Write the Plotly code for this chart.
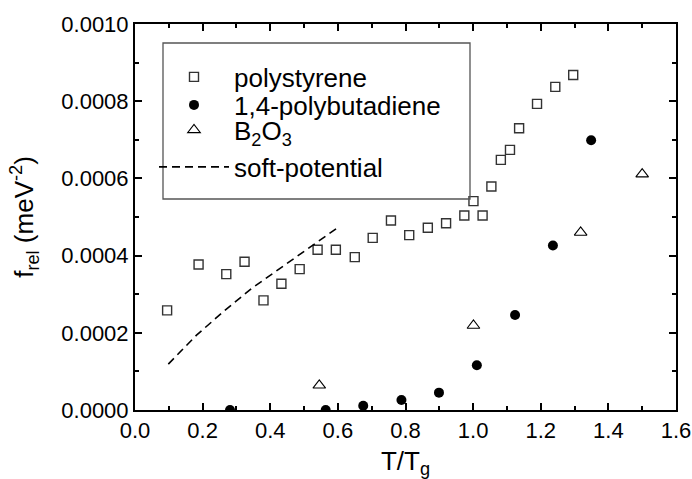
import plotly.graph_objects as go

# Data
ps_x = [0.095, 0.188, 0.270, 0.324, 0.380, 0.433, 0.487, 0.540, 0.594, 0.650, 0.703, 0.757,
        0.811, 0.866, 0.920, 0.974, 1.001, 1.028, 1.054, 1.082, 1.109, 1.136, 1.189, 1.243, 1.296]
ps_y = [0.000258, 0.000377, 0.000352, 0.000384, 0.000284, 0.000327, 0.000365, 0.000415,
        0.000415, 0.000396, 0.000446, 0.000491, 0.000453, 0.000472, 0.000484, 0.000504,
        0.000541, 0.000504, 0.000579, 0.000648, 0.000674, 0.000730, 0.000793, 0.000837, 0.000868]

pb_x = [0.281, 0.564, 0.675, 0.788, 0.899, 1.011, 1.124, 1.236, 1.349]
pb_y = [0.0, 0.0, 0.000011, 0.000026, 0.000045, 0.000116, 0.000246, 0.000426, 0.000699]

bo_x = [0.545, 1.001, 1.318, 1.500]
bo_y = [0.000064, 0.000219, 0.000460, 0.000611]

sp_x = [0.0985, 0.182, 0.263, 0.345, 0.429, 0.513, 0.597]
sp_y = [0.000119, 0.000194, 0.000256, 0.000315, 0.000367, 0.000419, 0.000471]

FONT = "Arial, Liberation Sans, sans-serif"

fig = go.Figure()
fig.add_trace(go.Scatter(x=ps_x, y=ps_y, mode="markers", name="polystyrene",
                         marker=dict(symbol="square-open", size=9, color="#333333",
                                     line=dict(width=1.4, color="#333333")),
                         showlegend=True, legend="legend"))
fig.add_trace(go.Scatter(x=pb_x, y=pb_y, mode="markers", name="1,4-polybutadiene",
                         marker=dict(symbol="circle", size=10, color="black"),
                         cliponaxis=True, showlegend=True, legend="legend2"))
fig.add_trace(go.Scatter(x=bo_x, y=bo_y, mode="markers", name="B<sub>2</sub>O<sub>3</sub>",
                         marker=dict(symbol="triangle-up-open", size=11, color="black",
                                     line=dict(width=1.1, color="black")),
                         showlegend=True, legend="legend3"))
fig.add_trace(go.Scatter(x=sp_x, y=sp_y, mode="lines", name="soft-potential",
                         line=dict(color="black", width=1.6, dash="8px,5px"),
                         showlegend=True, legend="legend4"))

def leg(ypx):
    return dict(x=(154 - 135) / 541, y=(410 - ypx) / 386, xanchor="left", yanchor="middle",
                bgcolor="rgba(0,0,0,0)", borderwidth=0, itemwidth=70, visible=True,
                font=dict(family=FONT, size=26, color="black"))

axis_common = dict(showline=True, linecolor="black", linewidth=2, mirror="allticks",
                   ticks="inside", ticklen=7, tickwidth=1.5, tickcolor="black",
                   showgrid=False, zeroline=False, automargin=False,
                   tickfont=dict(family=FONT, size=22, color="black"),
                   title_font=dict(family=FONT, size=26, color="black"))

fig.update_layout(
    width=692, height=479, autosize=False,
    margin=dict(l=135, r=16, t=24, b=69, autoexpand=False),
    paper_bgcolor="white", plot_bgcolor="white",
    font=dict(family=FONT, color="black"),
    showlegend=True,
    legend=leg(77), legend2=leg(105), legend3=leg(130), legend4=leg(167),
    xaxis=dict(range=[0, 1.6], dtick=0.2, tickformat=".1f",
               minor=dict(dtick=0.1, ticks="inside", ticklen=4, tickwidth=1.5, tickcolor="black"),
               title=dict(text="T/T<sub>g</sub>", standoff=10),
               **axis_common),
    yaxis=dict(range=[0, 0.001], dtick=0.0002, tickformat=".4f",
               minor=dict(dtick=0.0001, ticks="inside", ticklen=4, tickwidth=1.5, tickcolor="black"),
               title=dict(text="f<sub>rel</sub> (meV<sup>-2</sup>)", standoff=20),
               **axis_common),
    shapes=[dict(type="rect", xref="paper", yref="paper",
                 x0=(163 - 135) / 541, x1=(470 - 135) / 541,
                 y0=(410 - 199) / 386, y1=(410 - 43) / 386,
                 line=dict(color="#555555", width=1.3), fillcolor="rgba(0,0,0,0)")],
)

fig.write_html("out.html")
